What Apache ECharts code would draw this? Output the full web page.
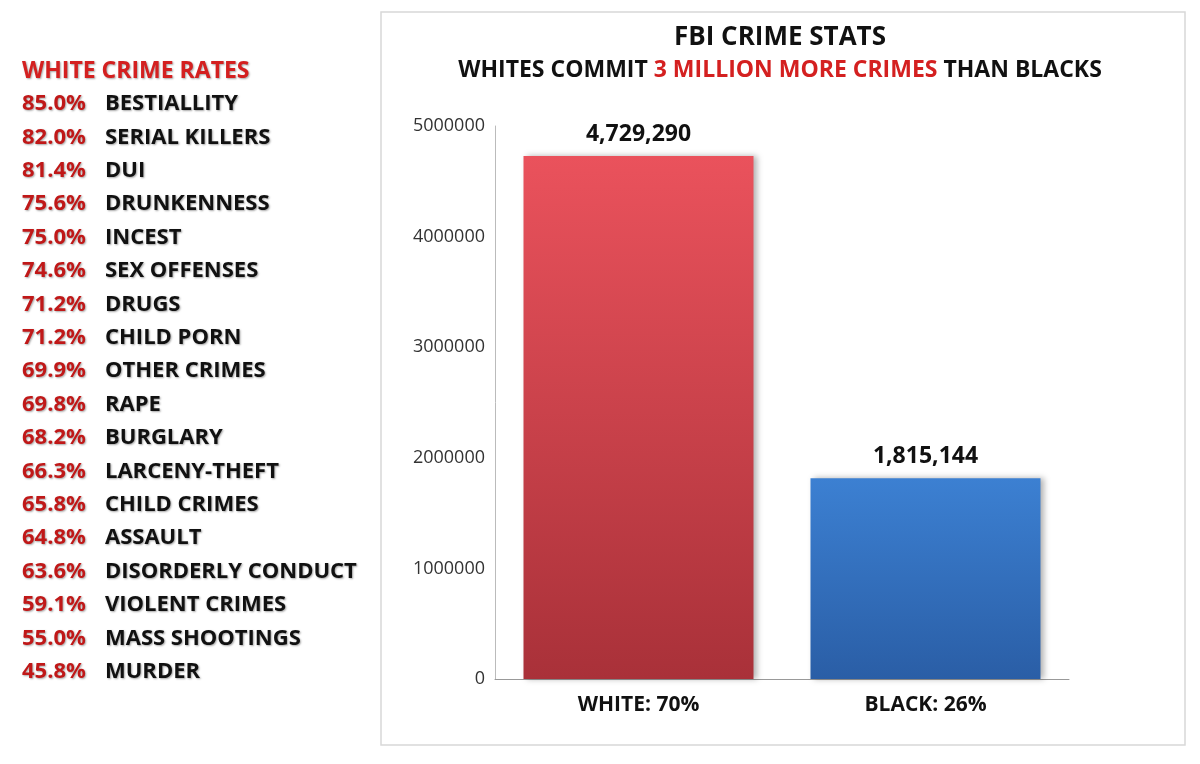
<!DOCTYPE html>
<html><head><meta charset="utf-8">
<script src="https://cdn.jsdelivr.net/npm/echarts@6/dist/echarts.min.js"></script>
<style>html,body{margin:0;padding:0;background:#fff}#c{width:1200px;height:764px}</style>
</head><body><div id="c"></div>
<script>
const rateValues=["85.0%","82.0%","81.4%","75.6%","75.0%","74.6%","71.2%","71.2%","69.9%","69.8%","68.2%","66.3%","65.8%","64.8%","63.6%","59.1%","55.0%","45.8%"];
const rateLabels=["BESTIALLITY","SERIAL KILLERS","DUI","DRUNKENNESS","INCEST","SEX OFFENSES","DRUGS","CHILD PORN","OTHER CRIMES","RAPE","BURGLARY","LARCENY-THEFT","CHILD CRIMES","ASSAULT","DISORDERLY CONDUCT","VIOLENT CRIMES","MASS SHOOTINGS","MURDER"];
const categories=["WHITE: 70%","BLACK: 26%"];
const crimes=[4729290,1815144];
const chart=echarts.init(document.getElementById('c'));
const F='"Open Sans", "DejaVu Sans", sans-serif';
const shadow={textShadowColor:'rgba(0,0,0,0.35)',textShadowBlur:2,textShadowOffsetX:1,textShadowOffsetY:1};
const listEls=[{type:'text',left:22,top:60,style:Object.assign({text:'WHITE CRIME RATES',fill:'#d42020',font:'bold 23px '+F},shadow)}];
rateValues.forEach((v,i)=>{
  const y=93+i*33.4;
  listEls.push({type:'text',left:22,top:y,style:Object.assign({text:v,fill:'#c01818',font:'bold 22px '+F},shadow)});
  listEls.push({type:'text',left:105,top:y,style:Object.assign({text:rateLabels[i],fill:'#111',font:'bold 22px '+F},shadow)});
});
listEls.push({type:'rect',shape:{x:381,y:12,width:804,height:733},style:{fill:'none',stroke:'#d8d8d8',lineWidth:1.5},z:-1});
chart.setOption({
  animation:false,
  title:{text:'FBI CRIME STATS',left:775,textAlign:'center',top:20,textStyle:{fontFamily:F,fontSize:26,fontWeight:'bold',color:'#111'},
    subtext:'{a|WHITES COMMIT }{b|3 MILLION MORE CRIMES}{a| THAN BLACKS}',itemGap:8,
    subtextStyle:{rich:{a:{fontFamily:F,fontSize:23,fontWeight:'bold',color:'#111'},b:{fontFamily:F,fontSize:23,fontWeight:'bold',color:'#d42020'}}}},
  graphic:listEls,
  grid:{left:495,right:131,top:126,bottom:85},
  xAxis:{type:'category',data:categories,axisTick:{show:false},axisLine:{lineStyle:{color:'#999'}},
    axisLabel:{fontFamily:F,fontSize:21,fontWeight:'bold',color:'#111',margin:16}},
  yAxis:{type:'value',min:0,max:5000000,interval:1000000,splitLine:{show:false},
    axisLine:{show:true,lineStyle:{color:'#bbb'}},axisLabel:{fontFamily:F,fontSize:18,color:'#333',margin:10,formatter:v=>String(v)}},
  series:[{type:'bar',barWidth:230,data:crimes.map((v,i)=>({value:v,itemStyle:{color:new echarts.graphic.LinearGradient(0,0,0,1,
    i===0?[{offset:0,color:'#ea525c'},{offset:1,color:'#a93139'}]:[{offset:0,color:'#3c80d2'},{offset:1,color:'#2a5ea6'}]),
    shadowColor:'rgba(0,0,0,0.3)',shadowBlur:6,shadowOffsetX:3}})),
    label:{show:true,position:'top',distance:10,fontFamily:F,fontSize:23,fontWeight:'bold',color:'#111',
      formatter:p=>p.value.toLocaleString('en-US')}}]
});
</script></body></html>
